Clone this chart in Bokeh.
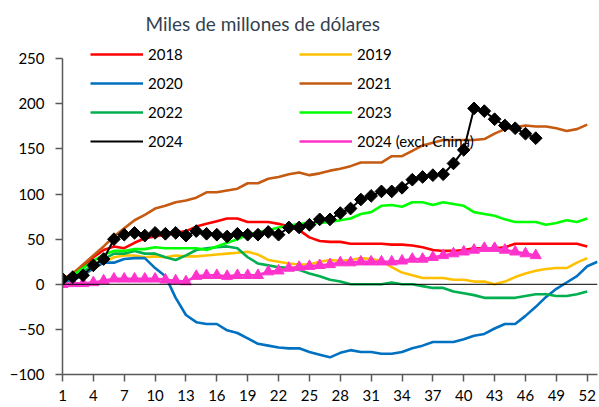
import numpy as np
from bokeh.plotting import figure
from bokeh.models import Legend, LegendItem, Span, FixedTicker, Range1d
from bokeh.embed import file_html
from bokeh.resources import INLINE

# ---- data (weekly cumulative, billions USD) ----
x_ticks = list(range(1, 53, 3))
y_ticks = [-100, -50, 0, 50, 100, 150, 200, 250]

s2018 = [5, 12, 20, 30, 38, 42, 40, 46, 51, 53,
         55, 57, 59, 64, 67, 70, 73, 73, 69, 69,
         69, 67, 64, 60, 52, 48, 47, 47, 45, 45,
         45, 45, 44, 44, 43, 41, 38, 37, 37, 38,
         40, 40, 40, 41, 45, 45, 45, 45, 45, 45,
         45, 42]
s2019 = [2, 5, 10, 17, 24, 30, 32, 32, 30, 31,
         30, 32, 31, 31, 32, 33, 34, 35, 36, 33,
         27, 25, 23, 22, 22, 25, 27, 26, 27, 29,
         28, 26, 19, 13, 10, 7, 7, 7, 5, 5,
         3, 3, 0, 3, 8, 12, 15, 17, 18, 18,
         24, 29]
s2020 = [2, 5, 10, 18, 24, 24, 28, 29, 29, 18,
         9, -15, -34, -42, -44, -44, -51, -54, -60, -66,
         -68, -70, -71, -71, -75, -78, -81, -76, -73, -75,
         -75, -77, -77, -75, -71, -68, -64, -64, -64, -61,
         -57, -55, -49, -44, -44, -35, -25, -14, -5, 2,
         9, 20, 25]
s2021 = [5, 12, 22, 32, 42, 53, 62, 71, 77, 84,
         87, 91, 93, 96, 102, 102, 104, 106, 112, 112,
         117, 119, 122, 124, 121, 123, 126, 128, 131, 135,
         135, 135, 142, 142, 148, 154, 157, 160, 160, 160,
         160, 161, 167, 172, 174, 176, 175, 175, 173, 170,
         172, 177]
s2022 = [3, 8, 14, 21, 28, 34, 34, 37, 34, 34,
         30, 27, 32, 38, 40, 41, 42, 40, 30, 23,
         21, 19, 18, 16, 12, 9, 5, 3, 0, 0,
         0, 0, 2, 0, 0, -2, -4, -4, -8, -10,
         -12, -15, -15, -15, -15, -13, -11, -11, -13, -13,
         -11, -8]
s2023 = [4, 10, 18, 26, 33, 37, 37, 39, 39, 41,
         40, 40, 40, 40, 38, 42, 46, 50, 55, 58,
         60, 63, 65, 67, 68, 68, 69, 71, 73, 78,
         80, 87, 88, 86, 91, 91, 88, 91, 89, 87,
         80, 78, 76, 72, 69, 69, 69, 66, 68, 71,
         69, 73]
s2024 = [6, 8, 10, 21, 28, 50, 55, 57, 54, 57,
         56, 57, 54, 59, 56, 55, 53, 56, 55, 55,
         58, 55, 63, 63, 66, 72, 72, 79, 84, 94,
         98, 103, 103, 107, 116, 119, 121, 122, 134, 149,
         195, 192, 183, 176, 173, 167, 162]
s2024x = [0, 1, 1, 2, 4, 6, 6, 6, 6, 6,
          5, 4, 3, 9, 10, 10, 9, 10, 10, 10,
          14, 15, 18, 19, 20, 21, 22, 24, 24, 25,
          25, 25, 25, 26, 28, 28, 30, 32, 34, 36,
          38, 40, 40, 38, 36, 34, 32]


def weeks(s):
    return list(range(1, len(s) + 1))


FONT = "Lato"
p = figure(width=599, height=407, x_range=Range1d(1, 53), y_range=Range1d(-100, 272.5),
           output_backend="svg", toolbar_location=None,
           title="Miles de millones de dólares",
           min_border_left=62, min_border_right=2, min_border_top=38, min_border_bottom=33)
p.outline_line_color = None
p.xgrid.visible = False
p.ygrid.visible = False
p.background_fill_color = "white"
p.border_fill_color = "white"

p.title.text_font = FONT
p.title.text_font_size = "19px"
p.title.text_font_style = "normal"
p.title.text_color = "#333F50"
p.title.align = "left"
p.title.offset = 83
p.title.standoff = 8

for ax in (p.xaxis[0], p.yaxis[0]):
    ax.axis_line_color = "#595959"
    ax.axis_line_width = 1.5
    ax.major_tick_line_color = "#595959"
    ax.major_tick_line_width = 1.5
    ax.major_tick_in = 0
    ax.major_tick_out = 7
    ax.minor_tick_line_color = None
    ax.major_label_text_font = FONT
    ax.major_label_text_font_size = "15px"
    ax.major_label_text_color = "black"
p.xaxis.ticker = FixedTicker(ticks=x_ticks)
p.yaxis.ticker = FixedTicker(ticks=y_ticks)
p.yaxis.bounds = (-100, 250)
p.yaxis.major_label_standoff = 11
p.xaxis.major_label_standoff = 8

p.add_layout(Span(location=0, dimension="width", line_color="black", line_width=1))

LW = 2.6
r18 = p.line(weeks(s2018), s2018, line_color="#FF0000", line_width=LW)
r19 = p.line(weeks(s2019), s2019, line_color="#FFC000", line_width=LW)
r20 = p.line(weeks(s2020), s2020, line_color="#0070C0", line_width=LW)
r21 = p.line(weeks(s2021), s2021, line_color="#C55A11", line_width=LW)
r22 = p.line(weeks(s2022), s2022, line_color="#00B050", line_width=LW)
r23 = p.line(weeks(s2023), s2023, line_color="#00FF00", line_width=LW)
r24xl = p.line(weeks(s2024x), s2024x, line_color="#FF33CC", line_width=LW)
p.scatter(weeks(s2024x), s2024x, marker="triangle", size=11,
          fill_color="#FF33CC", line_color="#FF33CC")
r24l = p.line(weeks(s2024), s2024, line_color="black", line_width=2)
p.scatter(weeks(s2024), s2024, marker="square", angle=np.pi / 4, size=9,
          fill_color="black", line_color="black")

# legend-only symbols (empty renderers, smaller glyphs as in the original legend)
leg24m = p.scatter(x=[], y=[], marker="diamond", size=11, fill_color="black", line_color="black")
leg24xm = p.scatter(x=[], y=[], marker="triangle", size=8, fill_color="#FF33CC", line_color="#FF33CC")

common = dict(orientation="vertical", padding=0, margin=0, spacing=9,
              glyph_width=53, glyph_height=20, label_height=20, label_standoff=5,
              label_text_font=FONT, label_text_font_size="15px", label_text_color="black",
              border_line_alpha=0, background_fill_alpha=0)
legA = Legend(items=[LegendItem(label="2018", renderers=[r18]),
                     LegendItem(label="2020", renderers=[r20]),
                     LegendItem(label="2022", renderers=[r22]),
                     LegendItem(label="2024", renderers=[r24l, leg24m])],
              location=(28, 223), **common)
legB = Legend(items=[LegendItem(label="2019", renderers=[r19]),
                     LegendItem(label="2021", renderers=[r21]),
                     LegendItem(label="2023", renderers=[r23]),
                     LegendItem(label="2024 (excl. China)", renderers=[r24xl, leg24xm])],
              location=(237, 223), **common)
p.add_layout(legA)
p.add_layout(legB)

open("out.html", "w").write(file_html(p, INLINE))
